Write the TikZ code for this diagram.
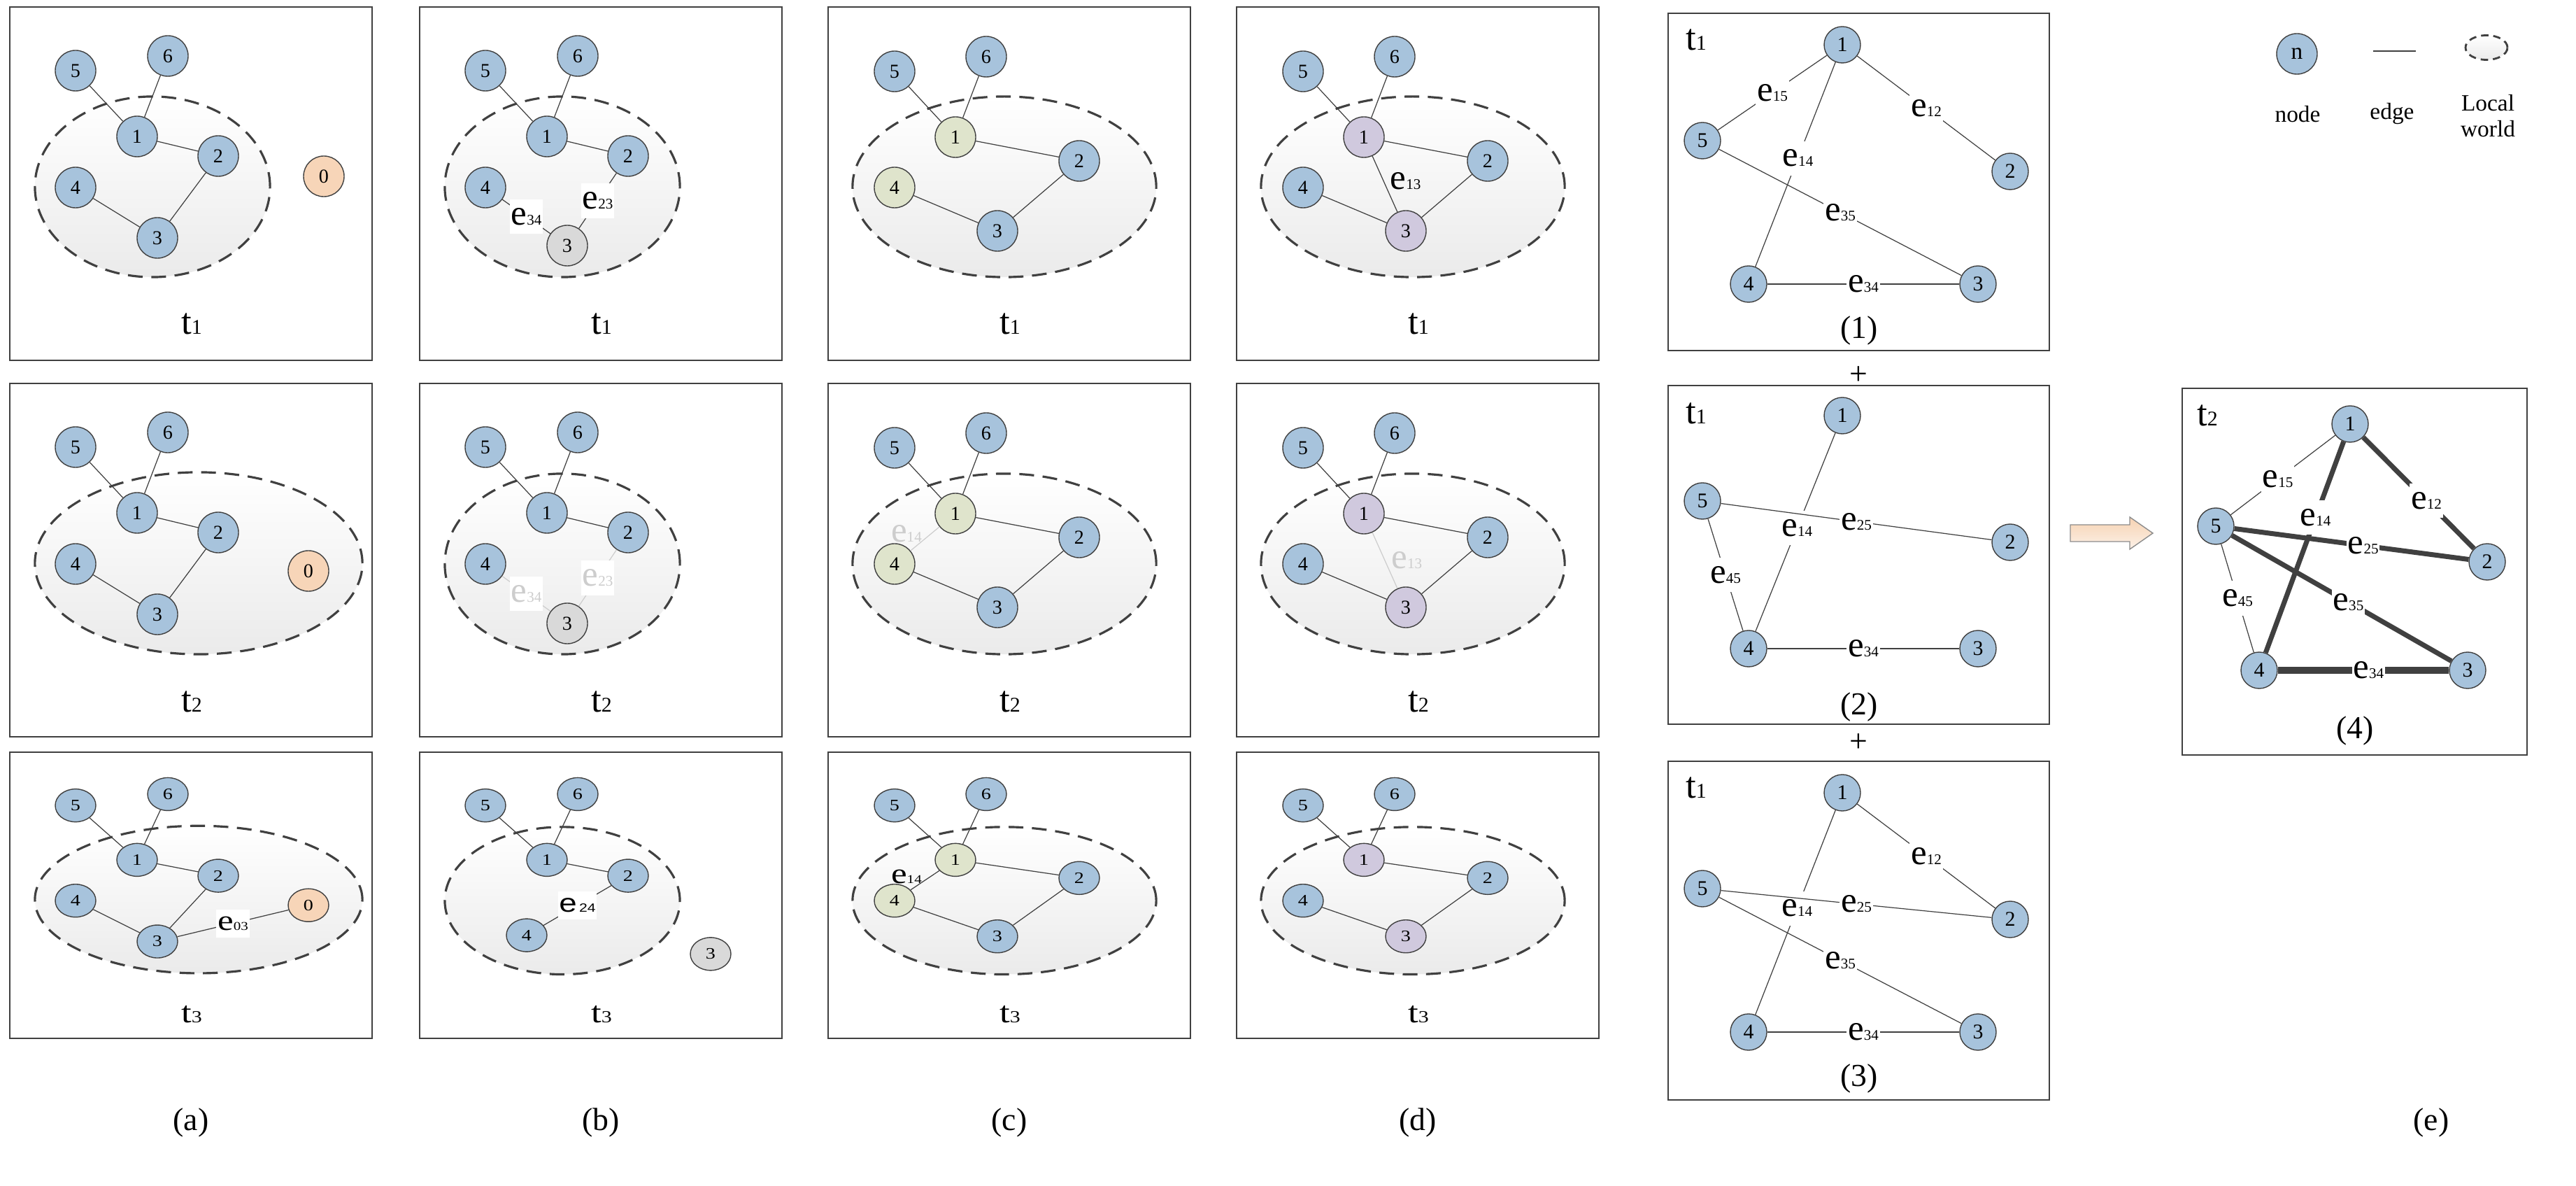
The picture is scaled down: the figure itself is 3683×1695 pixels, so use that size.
\documentclass[tikz,border=0pt]{standalone}
\usepackage{fontspec}
\setmainfont{Liberation Serif}
\setsansfont{Liberation Sans}
\usepackage{tikz}
\usetikzlibrary{positioning}

\definecolor{nblue}{HTML}{A7C3DC}
\definecolor{norange}{HTML}{F7D5B8}
\definecolor{ngrey}{HTML}{D9D9D9}
\definecolor{ngreen}{HTML}{DFE4CC}
\definecolor{npurple}{HTML}{D0C9DE}
\definecolor{gline}{HTML}{404040}
\definecolor{fadec}{HTML}{CDCDCD}
\definecolor{apeach}{HTML}{F6D2B2}

\newcommand{\elbl}[1]{{\fontsize{14.5}{14.5}\selectfont e}{\fontsize{6}{6}\selectfont #1}}
\newcommand{\elbs}[1]{{\sffamily\fontsize{13}{13}\selectfont e}{\sffamily\fontsize{6}{6}\selectfont\,#1}}
\newcommand{\tlbl}[1]{{\fontsize{15}{15}\selectfont t}{\fontsize{8.5}{8.5}\selectfont #1}}

\begin{document}
\begin{tikzpicture}[x=0.01cm, y=-0.01cm,
    nd/.style={circle, draw=gline, line width=0.4pt, fill=nblue, minimum size=0.58cm, inner sep=0pt, font=\fontsize{8}{8}\selectfont},
    nd0/.style={nd, fill=norange},
    ndg/.style={nd, fill=ngrey},
    ndc/.style={nd, fill=ngreen},
    ndd/.style={nd, fill=npurple},
    ne/.style={nd, minimum size=0.52cm, font=\fontsize{8.5}{8.5}\selectfont},
    ed/.style={draw=gline, line width=0.35pt},
    fd/.style={draw=fadec, line width=0.35pt},
    thk/.style={draw=gline, line width=2pt},
    elab/.style={fill=white, inner xsep=0.5pt, inner ysep=3.5pt},
    etxt/.style={inner sep=0.5pt},
    tl/.style={inner sep=0pt},
    panel/.style={draw=gline, line width=0.5pt},
    lworld/.style={draw=gline, line width=0.9pt, dash pattern=on 6pt off 3.5pt, top color=white, bottom color=black!8},
    figlbl/.style={inner sep=0pt, font=\fontsize{13}{13}\selectfont}
]
\useasboundingbox (0,0) rectangle (3683,1695);

% ---------- column (a) ----------
\begin{scope}[shift={(14,10)}]
    \draw[panel] (0,0) rectangle (518,505);
    \draw[lworld] (204,257) ellipse [x radius=1.68cm, y radius=1.29cm];
    \node[nd] (a1n5) at (94,91) {5};
    \node[nd] (a1n6) at (226,70) {6};
    \node[nd] (a1n1) at (182,185) {1};
    \node[nd] (a1n2) at (298,213) {2};
    \node[nd] (a1n4) at (94,258) {4};
    \node[nd] (a1n3) at (211,330) {3};
    \node[nd0] (a1n0) at (449,242) {0};
    \draw[ed] (a1n5) -- (a1n1) (a1n6) -- (a1n1) (a1n1) -- (a1n2) (a1n2) -- (a1n3) (a1n4) -- (a1n3);
    \node[tl] (a1t) at (260,453) {\tlbl{1}};
\end{scope}

\begin{scope}[shift={(14,548)}]
    \draw[panel] (0,0) rectangle (518,505);
    \draw[lworld] (270,257) ellipse [x radius=2.34cm, y radius=1.3cm];
    \node[nd] (a2n5) at (94,91) {5};
    \node[nd] (a2n6) at (226,70) {6};
    \node[nd] (a2n1) at (182,185) {1};
    \node[nd] (a2n2) at (298,213) {2};
    \node[nd] (a2n4) at (94,258) {4};
    \node[nd] (a2n3) at (211,330) {3};
    \node[nd0] (a2n0) at (427,268) {0};
    \draw[ed] (a2n5) -- (a2n1) (a2n6) -- (a2n1) (a2n1) -- (a2n2) (a2n2) -- (a2n3) (a2n4) -- (a2n3);
    \node[tl] (a2t) at (260,455) {\tlbl{2}};
\end{scope}

\begin{scope}[shift={(14,1075)}, yscale=0.81, transform shape]
    \draw[panel] (0,0) rectangle (518,505);
    \draw[lworld] (270,260) ellipse [x radius=2.34cm, y radius=1.3cm];
    \node[nd] (a3n5) at (94,94) {5};
    \node[nd] (a3n6) at (226,74) {6};
    \node[nd] (a3n1) at (182,190) {1};
    \node[nd] (a3n2) at (298,218) {2};
    \node[nd] (a3n4) at (94,262) {4};
    \node[nd] (a3n3) at (211,334) {3};
    \node[nd0] (a3n0) at (427,270) {0};
    \draw[ed] (a3n5) -- (a3n1) (a3n6) -- (a3n1) (a3n1) -- (a3n2) (a3n2) -- (a3n3) (a3n4) -- (a3n3);
    \draw[ed] (a3n3) -- node[elab] {\elbl{03}} (a3n0);
    \node[tl] (a3t) at (260,463) {\tlbl{3}};
\end{scope}

% ---------- column (b) ----------
\begin{scope}[shift={(600,10)}]
    \draw[panel] (0,0) rectangle (518,505);
    \draw[lworld] (204,257) ellipse [x radius=1.68cm, y radius=1.29cm];
    \node[nd] (b1n5) at (94,91) {5};
    \node[nd] (b1n6) at (226,70) {6};
    \node[nd] (b1n1) at (182,185) {1};
    \node[nd] (b1n2) at (298,213) {2};
    \node[nd] (b1n4) at (94,258) {4};
    \node[ndg] (b1n3) at (211,341) {3};
    \draw[ed] (b1n5) -- (b1n1) (b1n6) -- (b1n1) (b1n1) -- (b1n2);
    \draw[ed] (b1n4) -- node[elab] {\elbl{34}} (b1n3);
    \draw[ed] (b1n2) -- node[elab] {\elbl{23}} (b1n3);
    \node[tl] (b1t) at (260,453) {\tlbl{1}};
\end{scope}

\begin{scope}[shift={(600,548)}]
    \draw[panel] (0,0) rectangle (518,505);
    \draw[lworld] (204,258) ellipse [x radius=1.68cm, y radius=1.29cm];
    \node[nd] (b2n5) at (94,91) {5};
    \node[nd] (b2n6) at (226,70) {6};
    \node[nd] (b2n1) at (182,185) {1};
    \node[nd] (b2n2) at (298,213) {2};
    \node[nd] (b2n4) at (94,258) {4};
    \node[ndg] (b2n3) at (211,343) {3};
    \draw[ed] (b2n5) -- (b2n1) (b2n6) -- (b2n1) (b2n1) -- (b2n2);
    \draw[fd] (b2n4) -- node[elab, text=fadec] {\elbl{34}} (b2n3);
    \draw[fd] (b2n2) -- node[elab, text=fadec] {\elbl{23}} (b2n3);
    \node[tl] (b2t) at (260,455) {\tlbl{2}};
\end{scope}

\begin{scope}[shift={(600,1075)}, yscale=0.81, transform shape]
    \draw[panel] (0,0) rectangle (518,505);
    \draw[lworld] (204,262) ellipse [x radius=1.68cm, y radius=1.3cm];
    \node[nd] (b3n5) at (94,94) {5};
    \node[nd] (b3n6) at (226,74) {6};
    \node[nd] (b3n1) at (182,190) {1};
    \node[nd] (b3n2) at (298,218) {2};
    \node[nd] (b3n4) at (153,323) {4};
    \node[ndg] (b3n3) at (416,356) {3};
    \draw[ed] (b3n5) -- (b3n1) (b3n6) -- (b3n1) (b3n1) -- (b3n2);
    \draw[ed] (b3n2) -- node[elab] {\elbs{24}} (b3n4);
    \node[tl] (b3t) at (260,463) {\tlbl{3}};
\end{scope}

% ---------- column (c) ----------
\begin{scope}[shift={(1184,10)}]
    \draw[panel] (0,0) rectangle (518,505);
    \draw[lworld] (252,257) ellipse [x radius=2.17cm, y radius=1.29cm];
    \node[nd] (c1n5) at (95,92) {5};
    \node[nd] (c1n6) at (226,71) {6};
    \node[ndc] (c1n1) at (182,186) {1};
    \node[nd] (c1n2) at (359,220) {2};
    \node[ndc] (c1n4) at (95,258) {4};
    \node[nd] (c1n3) at (242,320) {3};
    \draw[ed] (c1n5) -- (c1n1) (c1n6) -- (c1n1) (c1n1) -- (c1n2) (c1n2) -- (c1n3) (c1n4) -- (c1n3);
    \node[tl] (c1t) at (260,453) {\tlbl{1}};
\end{scope}

\begin{scope}[shift={(1184,548)}]
    \draw[panel] (0,0) rectangle (518,505);
    \draw[lworld] (252,258) ellipse [x radius=2.17cm, y radius=1.29cm];
    \node[nd] (c2n5) at (95,92) {5};
    \node[nd] (c2n6) at (226,71) {6};
    \node[ndc] (c2n1) at (182,186) {1};
    \node[nd] (c2n2) at (359,220) {2};
    \node[ndc] (c2n4) at (95,258) {4};
    \node[nd] (c2n3) at (242,320) {3};
    \draw[ed] (c2n5) -- (c2n1) (c2n6) -- (c2n1) (c2n1) -- (c2n2) (c2n2) -- (c2n3) (c2n4) -- (c2n3);
    \draw[fd] (c2n1) -- node[etxt, pos=0.3, left=3pt, text=fadec] {\elbl{14}} (c2n4);
    \node[tl] (c2t) at (260,455) {\tlbl{2}};
\end{scope}

\begin{scope}[shift={(1184,1075)}, yscale=0.81, transform shape]
    \draw[panel] (0,0) rectangle (518,505);
    \draw[lworld] (252,262) ellipse [x radius=2.17cm, y radius=1.3cm];
    \node[nd] (c3n5) at (95,94) {5};
    \node[nd] (c3n6) at (226,74) {6};
    \node[ndc] (c3n1) at (182,190) {1};
    \node[nd] (c3n2) at (359,222) {2};
    \node[ndc] (c3n4) at (95,262) {4};
    \node[nd] (c3n3) at (242,325) {3};
    \draw[ed] (c3n5) -- (c3n1) (c3n6) -- (c3n1) (c3n1) -- (c3n2) (c3n2) -- (c3n3) (c3n4) -- (c3n3);
    \draw[ed] (c3n1) -- node[etxt, pos=0.3, left=3pt] {\elbl{14}} (c3n4);
    \node[tl] (c3t) at (260,463) {\tlbl{3}};
\end{scope}

% ---------- column (d) ----------
\begin{scope}[shift={(1768,10)}]
    \draw[panel] (0,0) rectangle (518,505);
    \draw[lworld] (252,257) ellipse [x radius=2.17cm, y radius=1.29cm];
    \node[nd] (d1n5) at (95,92) {5};
    \node[nd] (d1n6) at (226,71) {6};
    \node[ndd] (d1n1) at (182,186) {1};
    \node[nd] (d1n2) at (359,220) {2};
    \node[nd] (d1n4) at (95,258) {4};
    \node[ndd] (d1n3) at (242,320) {3};
    \draw[ed] (d1n5) -- (d1n1) (d1n6) -- (d1n1) (d1n1) -- (d1n2) (d1n2) -- (d1n3) (d1n4) -- (d1n3);
    \draw[ed] (d1n1) -- node[etxt, pos=0.45, right=2pt] {\elbl{13}} (d1n3);
    \node[tl] (d1t) at (260,453) {\tlbl{1}};
\end{scope}

\begin{scope}[shift={(1768,548)}]
    \draw[panel] (0,0) rectangle (518,505);
    \draw[lworld] (252,258) ellipse [x radius=2.17cm, y radius=1.29cm];
    \node[nd] (d2n5) at (95,92) {5};
    \node[nd] (d2n6) at (226,71) {6};
    \node[ndd] (d2n1) at (182,186) {1};
    \node[nd] (d2n2) at (359,220) {2};
    \node[nd] (d2n4) at (95,258) {4};
    \node[ndd] (d2n3) at (242,320) {3};
    \draw[ed] (d2n5) -- (d2n1) (d2n6) -- (d2n1) (d2n1) -- (d2n2) (d2n2) -- (d2n3) (d2n4) -- (d2n3);
    \draw[fd] (d2n1) -- node[etxt, pos=0.5, right=2pt, text=fadec] {\elbl{13}} (d2n3);
    \node[tl] (d2t) at (260,455) {\tlbl{2}};
\end{scope}

\begin{scope}[shift={(1768,1075)}, yscale=0.81, transform shape]
    \draw[panel] (0,0) rectangle (518,505);
    \draw[lworld] (252,262) ellipse [x radius=2.17cm, y radius=1.3cm];
    \node[nd] (d3n5) at (95,94) {5};
    \node[nd] (d3n6) at (226,74) {6};
    \node[ndd] (d3n1) at (182,190) {1};
    \node[nd] (d3n2) at (359,222) {2};
    \node[nd] (d3n4) at (95,262) {4};
    \node[ndd] (d3n3) at (242,325) {3};
    \draw[ed] (d3n5) -- (d3n1) (d3n6) -- (d3n1) (d3n1) -- (d3n2) (d3n2) -- (d3n3) (d3n4) -- (d3n3);
    \node[tl] (d3t) at (260,463) {\tlbl{3}};
\end{scope}

% ---------- column (e) ----------
\begin{scope}[shift={(2385,19)}]
    \draw[panel] (0,0) rectangle (545,482);
    \node[ne] (e1n1) at (249,45) {1};
    \node[ne] (e1n5) at (49,182) {5};
    \node[ne] (e1n2) at (489,226) {2};
    \node[ne] (e1n4) at (115,387) {4};
    \node[ne] (e1n3) at (443,387) {3};
    \draw[ed] (e1n1) -- node[elab] {\elbl{15}} (e1n5);
    \draw[ed] (e1n1) -- node[elab] {\elbl{12}} (e1n2);
    \draw[ed] (e1n1) -- node[elab, pos=0.47] {\elbl{14}} (e1n4);
    \draw[ed] (e1n5) -- node[elab] {\elbl{35}} (e1n3);
    \draw[ed] (e1n4) -- node[elab] {\elbl{34}} (e1n3);
    \node[tl] (e1t) at (40,38) {\tlbl{1}};
    \node[figlbl] (e1c) at (273,454) {(1)};
\end{scope}
\node[figlbl] (plus1) at (2657,537) {+};

\begin{scope}[shift={(2385,551)}]
    \draw[panel] (0,0) rectangle (545,484);
    \node[ne] (e2n1) at (249,43) {1};
    \node[ne] (e2n5) at (49,165) {5};
    \node[ne] (e2n2) at (489,224) {2};
    \node[ne] (e2n4) at (115,376) {4};
    \node[ne] (e2n3) at (443,376) {3};
    \draw[ed] (e2n1) -- node[elab, pos=0.48] {\elbl{14}} (e2n4);
    \draw[ed] (e2n5) -- node[elab] {\elbl{25}} (e2n2);
    \draw[ed] (e2n5) -- node[elab] {\elbl{45}} (e2n4);
    \draw[ed] (e2n4) -- node[elab] {\elbl{34}} (e2n3);
    \node[tl] (e2t) at (40,40) {\tlbl{1}};
    \node[figlbl] (e2c) at (273,460) {(2)};
\end{scope}
\node[figlbl] (plus2) at (2657,1062) {+};

\begin{scope}[shift={(2385,1088)}]
    \draw[panel] (0,0) rectangle (545,484);
    \node[ne] (e3n1) at (249,45) {1};
    \node[ne] (e3n5) at (49,182) {5};
    \node[ne] (e3n2) at (489,226) {2};
    \node[ne] (e3n4) at (115,387) {4};
    \node[ne] (e3n3) at (443,387) {3};
    \draw[ed] (e3n1) -- node[elab, pos=0.48] {\elbl{14}} (e3n4);
    \draw[ed] (e3n1) -- node[elab] {\elbl{12}} (e3n2);
    \draw[ed] (e3n5) -- node[elab] {\elbl{25}} (e3n2);
    \draw[ed] (e3n5) -- node[elab] {\elbl{35}} (e3n3);
    \draw[ed] (e3n4) -- node[elab] {\elbl{34}} (e3n3);
    \node[tl] (e3t) at (40,38) {\tlbl{1}};
    \node[figlbl] (e3c) at (273,454) {(3)};
\end{scope}

% merge arrow
\path[draw=black!45, line width=0.4pt, top color=apeach, bottom color=apeach!30]
    (2960,750) -- (3045,750) -- (3045,739) -- (3078,762) -- (3045,785) -- (3045,774) -- (2960,774) -- cycle;

\begin{scope}[shift={(3120,555)}]
    \draw[panel] (0,0) rectangle (493,524);
    \node[ne] (e4n1) at (240,51) {1};
    \node[ne] (e4n5) at (48,197) {5};
    \node[ne] (e4n2) at (436,248) {2};
    \node[ne] (e4n4) at (110,403) {4};
    \node[ne] (e4n3) at (408,403) {3};
    \draw[ed] (e4n1) -- node[elab, pos=0.55] {\elbl{15}} (e4n5);
    \draw[ed] (e4n5) -- node[elab] {\elbl{45}} (e4n4);
    \draw[thk] (e4n1) -- node[elab, pos=0.57] {\elbl{12}} (e4n2);
    \draw[thk] (e4n1) -- node[elab, pos=0.36] {\elbl{14}} (e4n4);
    \draw[thk] (e4n5) -- node[elab, pos=0.55] {\elbl{25}} (e4n2);
    \draw[thk] (e4n5) -- node[elab, pos=0.53] {\elbl{35}} (e4n3);
    \draw[thk, line width=2.8pt] (e4n4) -- node[elab, pos=0.53] {\elbl{34}} (e4n3);
    \node[tl] (e4t) at (36,39) {\tlbl{2}};
    \node[figlbl] (e4c) at (247,490) {(4)};
\end{scope}

% legend
\node[nd, font=\fontsize{9.5}{9.5}\selectfont] (lgnode) at (3284,77) {n};
\coordinate (lgA) at (3393,73);
\coordinate (lgB) at (3454,73);
\draw[ed] (lgA) -- (lgB);
\draw[lworld, line width=0.8pt, dash pattern=on 3pt off 2pt] (3555,68) ellipse [x radius=0.3cm, y radius=0.175cm];
\node[inner sep=0pt, font=\fontsize{9.5}{9.5}\selectfont] (lgtxt1) at (3285,163) {node};
\node[inner sep=0pt, font=\fontsize{9.5}{9.5}\selectfont] (lgtxt2) at (3420,163) {edge};
\node[inner sep=0pt, align=center, font=\fontsize{9.5}{10.5}\selectfont] (lgtxt3) at (3557,166) {Local\\world};

% column captions
\node[figlbl] (capa) at (273,1605) {(a)};
\node[figlbl] (capb) at (859,1605) {(b)};
\node[figlbl] (capc) at (1443,1605) {(c)};
\node[figlbl] (capd) at (2027,1605) {(d)};
\node[figlbl] (cape) at (3476,1605) {(e)};
\end{tikzpicture}
\end{document}
